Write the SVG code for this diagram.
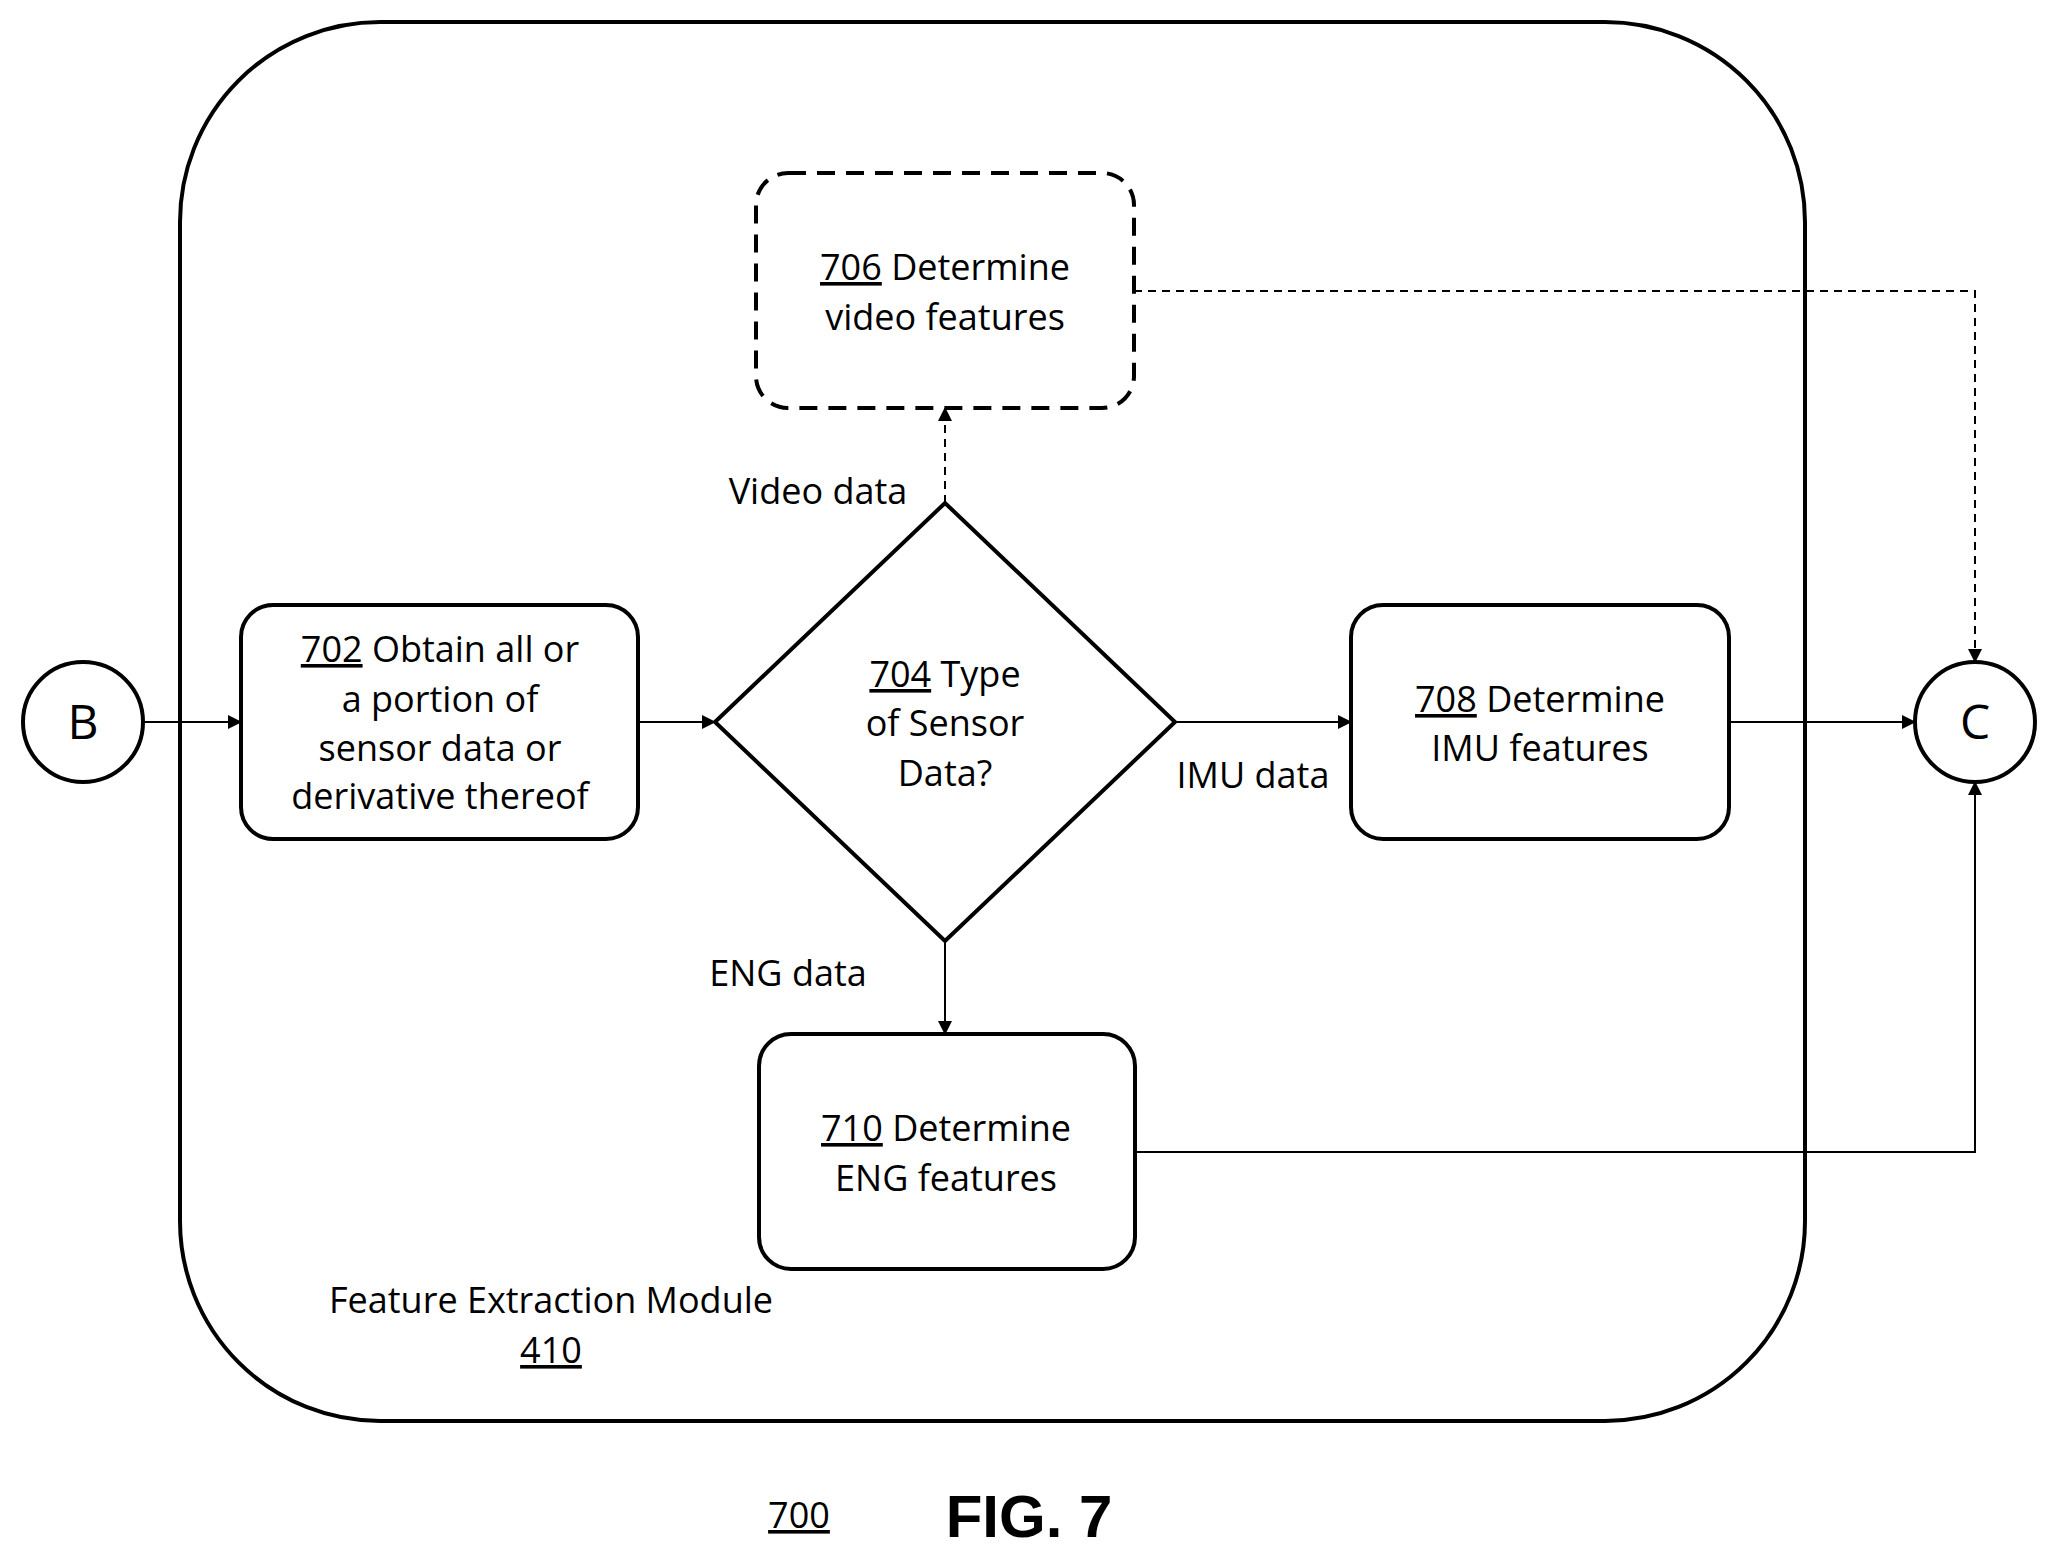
<svg xmlns="http://www.w3.org/2000/svg" width="2058" height="1559" viewBox="0 0 2058 1559">
<style>
text{font-family:"Open Sans","Liberation Sans",sans-serif;font-size:36px;fill:#000;text-anchor:middle}
.u{text-decoration:underline}
.box{fill:#fff;stroke:#000;stroke-width:4}
.ln{fill:none;stroke:#000;stroke-width:2}
.d{stroke-dasharray:8 6}
.fig{font-family:"Liberation Sans",Arial,sans-serif;font-size:60px;font-weight:bold}
.big{font-size:48px}
</style>
<defs><marker id="b" markerWidth="14" markerHeight="14" refX="13" refY="7" orient="auto" markerUnits="userSpaceOnUse" viewBox="0 0 14 14"><path d="M0,0L14,7L0,14Z" fill="#000"/></marker></defs>
<g id="module"><rect x="180" y="22" width="1625" height="1399" rx="200" class="box"/>
<text x="551" y="1313">Feature Extraction Module</text><text x="551" y="1363" class="u">410</text></g>
<g id="connectors">
<path d="M143,722H241" class="ln" marker-end="url(#b)"/>
<path d="M638,722H715" class="ln" marker-end="url(#b)"/>
<path d="M1175,722H1351" class="ln" marker-end="url(#b)"/>
<path d="M1729,722H1915" class="ln" marker-end="url(#b)"/>
<path d="M945,503V408" class="ln d" marker-end="url(#b)"/>
<path d="M1134,291H1975V662" class="ln d" marker-end="url(#b)"/>
<path d="M945,941V1034" class="ln" marker-end="url(#b)"/>
<path d="M1135,1152H1975V782" class="ln" marker-end="url(#b)"/>
</g>
<g id="B"><circle cx="83" cy="722" r="60" class="box" stroke-width="3"/><text x="83" y="739" class="big">B</text></g>
<g id="C"><circle cx="1975" cy="722" r="60" class="box" stroke-width="3"/><text x="1975" y="739" class="big">C</text></g>
<g id="n702"><rect x="241" y="605" width="397" height="234" rx="32" class="box"/>
<text x="440" y="662"><tspan class="u">702</tspan> Obtain all or</text><text x="440" y="712">a portion of</text><text x="440" y="761">sensor data or</text><text x="440" y="809">derivative thereof</text></g>
<g id="n704"><path d="M715,722L945,503L1175,722L945,941Z" class="box" stroke-width="3"/>
<text x="945" y="687"><tspan class="u">704</tspan> Type</text><text x="945" y="736">of Sensor</text><text x="945" y="786">Data?</text></g>
<g id="n706"><rect x="756" y="173" width="378" height="235" rx="32" class="box" stroke-dasharray="18 11"/>
<text x="945" y="280"><tspan class="u">706</tspan> Determine</text><text x="945" y="330">video features</text></g>
<g id="n708"><rect x="1351" y="605" width="378" height="234" rx="32" class="box"/>
<text x="1540" y="712"><tspan class="u">708</tspan> Determine</text><text x="1540" y="761">IMU features</text></g>
<g id="n710"><rect x="759" y="1034" width="376" height="235" rx="32" class="box"/>
<text x="946" y="1141"><tspan class="u">710</tspan> Determine</text><text x="946" y="1191">ENG features</text></g>
<g id="labels"><text x="818" y="504">Video data</text><text x="1253" y="788">IMU data</text><text x="788" y="986">ENG data</text></g>
<g id="caption"><text x="799" y="1528" class="u">700</text><text x="1029" y="1537" class="fig">FIG. 7</text></g>
</svg>
